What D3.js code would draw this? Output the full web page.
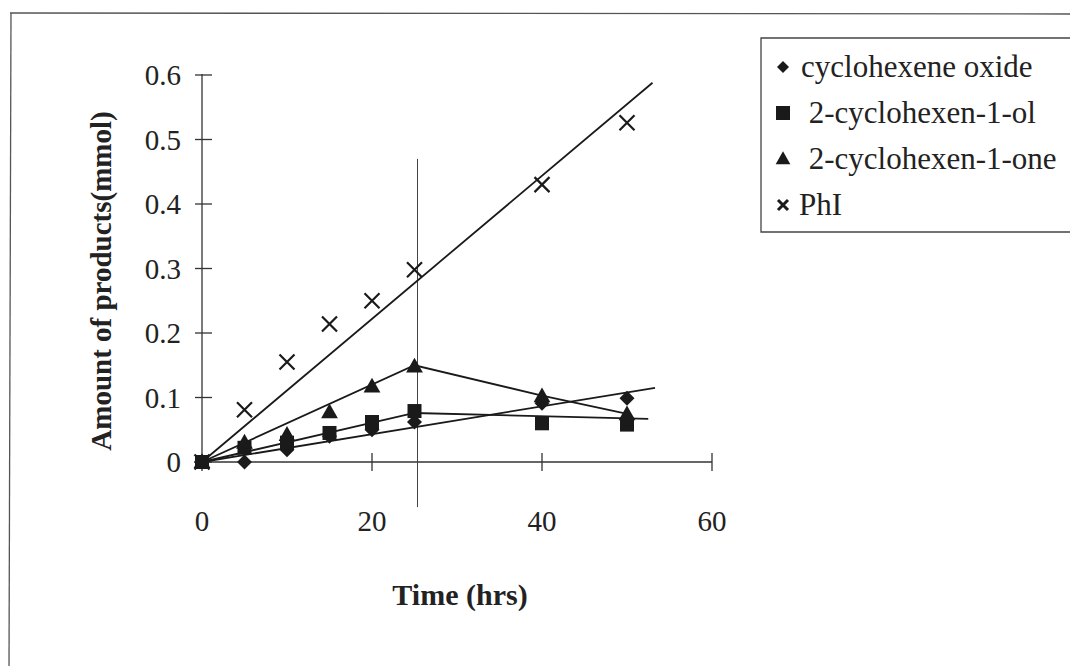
<!DOCTYPE html>
<html>
<head>
<meta charset="utf-8">
<script src="https://cdn.jsdelivr.net/npm/d3@7"></script>
<style>
  body { margin: 0; background: #fff; }
  text { font-family: "Liberation Serif", "Times New Roman", serif; fill: #222; }
</style>
</head>
<body>
<div id="chart"></div>
<script>
// data
var times = [0, 5, 10, 15, 20, 25, 40, 50];
var oxide = [0, 0, 0.019, 0.04, 0.05, 0.062, 0.091, 0.099];
var enol = [0, 0.022, 0.03, 0.045, 0.062, 0.079, 0.06, 0.058];
var enone = [0, 0.03, 0.042, 0.077, 0.117, 0.148, 0.102, 0.074];
var phi = [0, 0.081, 0.155, 0.214, 0.25, 0.298, 0.43, 0.526];

// trend lines (knots)
var oxideFit = [[0, 0], [53.3, 0.115]];
var enolFit = [[0, 0], [25, 0.076], [52.5, 0.067]];
var enoneFit = [[0, 0], [25, 0.15], [40, 0.103], [50.3, 0.074]];
var phiFit = [[0, 0], [53, 0.588]];

var seriesNames = ["cyclohexene oxide", " 2-cyclohexen-1-ol", " 2-cyclohexen-1-one", "PhI"];
var seriesShapes = ["diamond", "square", "triangle", "cross"];

var xTicks = [0, 20, 40, 60];
var yTicks = [0, 0.1, 0.2, 0.3, 0.4, 0.5, 0.6];
var markerTime = 25, markerRange = [-0.07, 0.47];

var W = 1070, H = 666;

var svg = d3.select("#chart").append("svg")
    .attr("width", W)
    .attr("height", H)
    .style("background-color", "white");

var x = d3.scaleLinear().domain([0, 60]).range([202, 712]);
var y = d3.scaleLinear().domain([0, 0.6]).range([462, 75]);

// outer frame (top + left only, like the scan)
svg.append("line").attr("x1", 10).attr("x2", W).attr("y1", 13).attr("y2", 14)
  .style("stroke", "#555").style("stroke-width", 1.3)
svg.append("line").attr("x1", 11).attr("x2", 9).attr("y1", 13).attr("y2", H)
  .style("stroke", "#555").style("stroke-width", 1.3)

// axes, ticks cross the axis lines
var axisColor = "#333";
svg.append("line").attr("x1", x(0)).attr("x2", x(0)).attr("y1", y(0.6) - 1).attr("y2", y(0) + 9)
  .style("stroke", axisColor).style("stroke-width", 1.3)
svg.append("line").attr("x1", x(0) - 8).attr("x2", x(60)).attr("y1", y(0)).attr("y2", y(0))
  .style("stroke", axisColor).style("stroke-width", 1.3)

svg.selectAll(".ytick").data(yTicks).enter().append("line")
  .attr("x1", x(0) - 7).attr("x2", x(0) + 10)
  .attr("y1", function(d) { return y(d); }).attr("y2", function(d) { return y(d); })
  .style("stroke", axisColor).style("stroke-width", 1.3)
svg.selectAll(".xtick").data(xTicks.slice(1)).enter().append("line")
  .attr("x1", function(d) { return x(d); }).attr("x2", function(d) { return x(d); })
  .attr("y1", y(0) - 9).attr("y2", y(0) + 9)
  .style("stroke", axisColor).style("stroke-width", 1.3)

svg.selectAll(".ylab").data(yTicks).enter().append("text")
  .attr("x", 181)
  .attr("y", function(d) { return y(d) + 10; })
  .attr("text-anchor", "end")
  .style("font-size", "29px")
  .text(function(d) { return d === 0 ? "0" : d3.format(".1f")(d); })
svg.selectAll(".xlab").data(xTicks).enter().append("text")
  .attr("x", function(d) { return x(d); })
  .attr("y", 531)
  .attr("text-anchor", "middle")
  .style("font-size", "29px")
  .text(function(d) { return d; })

svg.append("text")
  .attr("x", 460).attr("y", 605)
  .attr("text-anchor", "middle")
  .style("font-size", "30px").style("font-weight", "bold")
  .text("Time (hrs)")
svg.append("text")
  .attr("transform", "translate(111,281) rotate(-90)")
  .attr("text-anchor", "middle")
  .style("font-size", "29px").style("font-weight", "bold")
  .text("Amount of products(mmol)")

// vertical marker line at t = 25
svg.append("line")
  .attr("x1", x(markerTime) + 3).attr("x2", x(markerTime) + 3)
  .attr("y1", y(markerRange[1])).attr("y2", y(markerRange[0]))
  .style("stroke", "#444").style("stroke-width", 1)

// trend lines
var line = d3.line().x(function(d) { return x(d[0]); }).y(function(d) { return y(d[1]); });
[oxideFit, enolFit, enoneFit, phiFit].forEach(function(f) {
  svg.append("path").attr("d", line(f))
    .style("fill", "none").style("stroke", "#1a1a1a").style("stroke-width", 1.8)
});

function marker(g, shape, s, sw) {
  if (shape === "diamond") {
    g.append("path").attr("d", "M0," + (-s) + "L" + s + ",0L0," + s + "L" + (-s) + ",0Z").style("fill", "#1a1a1a")
  } else if (shape === "square") {
    g.append("rect").attr("x", -s).attr("y", -s).attr("width", 2 * s).attr("height", 2 * s).style("fill", "#1a1a1a")
  } else if (shape === "triangle") {
    g.append("path").attr("d", "M0," + (-s * 1.1) + "L" + (s * 1.05) + "," + (s * 0.75) + "L" + (-s * 1.05) + "," + (s * 0.75) + "Z").style("fill", "#1a1a1a")
  } else {
    g.append("path").attr("d", "M" + (-s) + "," + (-s) + "L" + s + "," + s + "M" + s + "," + (-s) + "L" + (-s) + "," + s)
      .style("stroke", "#1a1a1a").style("stroke-width", sw || 2.2).style("fill", "none")
  }
}

var allSeries = [oxide, enol, enone, phi];
var plotSizes = [7.5, 7, 8, 7.5];
allSeries.forEach(function(vals, i) {
  vals.forEach(function(v, j) {
    var g = svg.append("g").attr("transform", "translate(" + x(times[j]) + "," + y(v) + ")");
    marker(g, seriesShapes[i], plotSizes[i]);
  });
});

// legend
var lg = svg.append("g")
lg.append("path").attr("d", "M" + (W + 5) + ",38L761,38L761,232L" + (W + 5) + ",232")
  .style("fill", "none").style("stroke", "#444").style("stroke-width", 1.3)
var legendSizes = [6, 7, 7, 5];
seriesNames.forEach(function(name, i) {
  var cy = 67 + i * 46;
  var g = lg.append("g").attr("transform", "translate(783," + cy + ")");
  marker(g, seriesShapes[i], legendSizes[i], 3);
  lg.append("text")
    .attr("x", i === 3 ? 799 : 801).attr("y", cy + 10)
    .style("font-size", "31px").style("white-space", "pre")
    .text(name)
});
</script>
</body>
</html>
